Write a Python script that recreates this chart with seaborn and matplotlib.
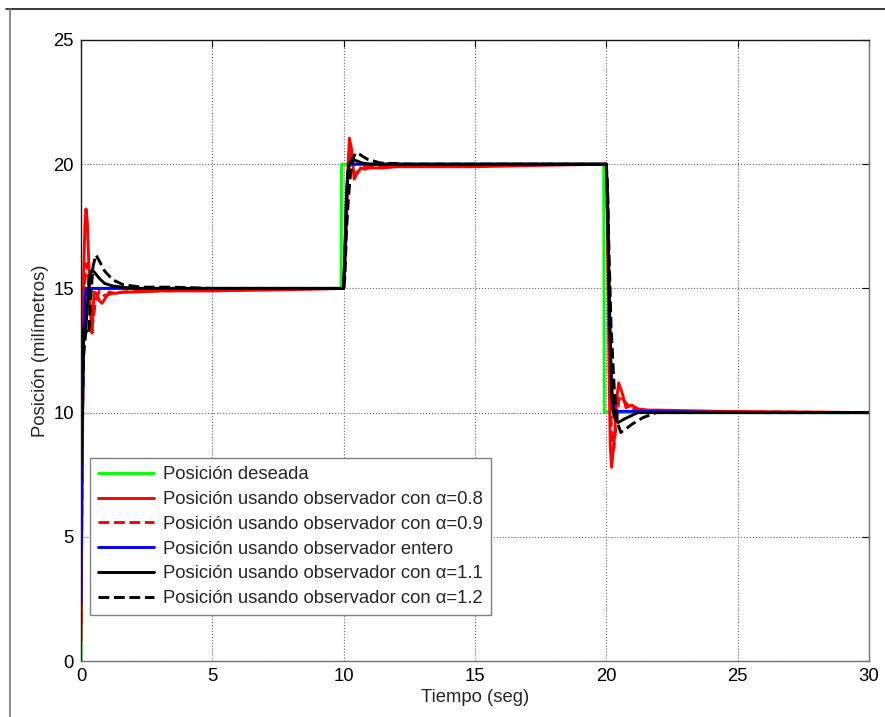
import matplotlib
matplotlib.use("Agg")
import matplotlib.pyplot as plt
from matplotlib.lines import Line2D
import pandas as pd
import seaborn as sns

sns.set_theme(style="white")
plt.rcParams["font.family"] = ["Liberation Sans", "DejaVu Sans"]

# Desired position (reference step sequence)
t_ref = [0.0, 0.02, 9.9, 9.92, 19.9, 19.92, 30.0]
y_ref = [0.0, 15.0, 15.0, 20.0, 20.0, 10.0, 10.0]

# Observer with alpha = 0.8
t_a08 = [0.0, 0.05, 0.1, 0.15, 0.19, 0.24, 0.3, 0.36, 0.42, 0.5, 0.6, 0.7, 0.8, 0.95, 1.07,
         1.3, 1.6, 2.0, 3.0, 5.0, 8.0, 10.0, 10.08, 10.15, 10.22, 10.3, 10.4, 10.5, 10.65,
         10.8, 11.0, 11.5, 12.0, 15.0, 17.3, 20.0, 20.05, 20.1, 20.15, 20.2, 20.3, 20.4,
         20.47, 20.6, 20.75, 20.97, 21.2, 21.6, 22.0, 24.4, 30.0]
y_a08 = [0.8, 9.0, 15.5, 17.6, 18.2, 17.7, 15.9, 14.0, 13.2, 14.85, 14.8, 14.5, 14.4, 14.65, 14.85,
         14.8, 14.85, 14.85, 14.9, 14.9, 14.95, 15.0, 17.0, 19.6, 21.05, 20.6, 19.4, 19.6, 19.85,
         19.8, 19.85, 19.85, 19.9, 19.9, 19.95, 20.0, 17.5, 12.0, 8.6, 7.8, 8.9, 10.6,
         11.2, 10.8, 10.2, 10.3, 10.15, 10.1, 10.1, 10.05, 10.0]

# Observer with alpha = 0.9
t_a09 = [0.0, 0.05, 0.1, 0.15, 0.21, 0.27, 0.33, 0.4, 0.46, 0.55, 0.7, 0.9, 1.2, 1.6, 2.2,
         3.0, 6.0, 10.0, 10.08, 10.15, 10.24, 10.32, 10.42, 10.55, 10.75, 11.0, 12.0, 16.0,
         20.0, 20.05, 20.12, 20.2, 20.28, 20.38, 20.5, 20.65, 20.9, 21.3, 22.0, 30.0]
y_a09 = [1.5, 8.5, 14.0, 15.6, 16.0, 15.4, 14.2, 13.5, 13.7, 14.5, 14.9, 14.7, 14.8, 14.85, 14.9,
         14.9, 14.95, 15.0, 16.8, 19.3, 20.6, 20.2, 19.6, 19.7, 19.9, 19.9, 19.95, 20.0,
         20.0, 17.0, 12.5, 9.0, 8.5, 9.6, 10.7, 10.5, 10.2, 10.1, 10.05, 10.0]

# Integer-order observer
t_int = [0.0, 0.05, 0.1, 0.15, 0.2, 1.0, 10.0, 10.05, 10.1, 10.15, 10.2, 20.0, 20.05, 20.1,
         20.2, 20.3, 21.0, 25.8, 30.0]
y_int = [2.3, 9.0, 13.0, 14.6, 15.0, 15.0, 15.0, 16.5, 18.3, 19.5, 20.0, 20.0, 18.0, 15.0,
         11.0, 10.05, 10.05, 10.0, 10.0]

# Observer with alpha = 1.1
t_a11 = [0.0, 0.05, 0.1, 0.18, 0.26, 0.33, 0.42, 0.55, 0.7, 0.9, 1.2, 1.56, 2.0, 10.0,
         10.05, 10.1, 10.15, 10.22, 10.3, 10.45, 10.7, 11.0, 12.0, 20.0, 20.05, 20.1, 20.15,
         20.22, 20.3, 20.45, 20.7, 21.2, 30.0]
y_a11 = [8.0, 11.5, 13.4, 13.3, 14.6, 15.5, 15.75, 15.6, 15.4, 15.2, 15.1, 15.05, 15.0, 15.0,
         16.8, 18.6, 19.6, 20.0, 20.2, 20.15, 20.05, 20.0, 20.0, 20.0, 18.5, 15.5, 12.5,
         10.5, 9.8, 9.6, 9.75, 10.0, 10.0]

# Observer with alpha = 1.2
t_a12 = [0.0, 0.05, 0.1, 0.18, 0.25, 0.3, 0.38, 0.46, 0.57, 0.7, 0.9, 1.2, 1.6, 2.3, 3.5, 5.0,
         10.0, 10.05, 10.1, 10.18, 10.26, 10.35, 10.45, 10.6, 10.9, 11.4, 12.5, 20.0, 20.05,
         20.1, 20.18, 20.3, 20.42, 20.55, 20.75, 21.0, 21.4, 21.9, 30.0]
y_a12 = [7.3, 10.0, 12.3, 13.2, 13.4, 13.3, 14.8, 15.9, 16.35, 16.1, 15.7, 15.35, 15.15, 15.05,
         15.05, 15.0, 15.0, 15.5, 17.2, 18.6, 19.6, 20.2, 20.45, 20.4, 20.2, 20.05, 20.0, 20.0,
         19.0, 16.5, 13.5, 11.0, 9.6, 9.2, 9.35, 9.55, 9.8, 10.0, 10.0]

series = [
    ("Posición deseada", t_ref, y_ref, "#00ff00", "-"),
    ("Posición usando observador con α=0.8", t_a08, y_a08, "#ff0000", "-"),
    ("Posición usando observador con α=0.9", t_a09, y_a09, "#ff0000", "--"),
    ("Posición usando observador entero", t_int, y_int, "#0000ff", "-"),
    ("Posición usando observador con α=1.1", t_a11, y_a11, "#000000", "-"),
    ("Posición usando observador con α=1.2", t_a12, y_a12, "#000000", "--"),
]

FS = 13.3

fig = plt.figure(figsize=(8.85, 7.17), dpi=100)
ax = fig.add_axes([81 / 885, 56 / 717, 788 / 885, 621 / 717])

for label, t, y, color, ls in series:
    df = pd.DataFrame({"t": t, "y": y})
    sns.lineplot(data=df, x="t", y="y", ax=ax, color=color, linestyle=ls,
                 linewidth=2.1, label=label, estimator=None, sort=False)

ax.set_xlim(0, 30)
ax.set_ylim(0, 25)
ax.set_xticks([0, 5, 10, 15, 20, 25, 30])
ax.set_yticks([0, 5, 10, 15, 20, 25])
ax.grid(True, linestyle=":", color="0.4", linewidth=0.8)
ax.tick_params(direction="in", length=5, width=0.8, colors="black",
               labelsize=FS, top=True, right=True, pad=5)
for side in ["left", "top"]:
    ax.spines[side].set_color("0.1")
for side in ["right", "bottom"]:
    ax.spines[side].set_color("0.45")
for sp in ax.spines.values():
    sp.set_linewidth(1.0)

ax.set_xlabel("Tiempo (seg)", fontsize=FS, labelpad=3)
ax.set_ylabel("Posición (milímetros)", fontsize=FS, labelpad=3)

leg = ax.legend(loc="upper left", bbox_to_anchor=(9 / 788, 203 / 621), borderaxespad=0,
                fontsize=FS, frameon=True, fancybox=False, edgecolor="0.5",
                framealpha=1, handlelength=3.0, handletextpad=0.5,
                labelspacing=0.42, borderpad=0.45)
leg.get_frame().set_linewidth(1.0)

# Outer window frame
fig.add_artist(Line2D([6 / 885, 1.0], [1 - 9 / 717, 1 - 9 / 717],
                      transform=fig.transFigure, color="0.1", linewidth=1.2))
fig.add_artist(Line2D([10 / 885, 10 / 885], [0.0, 1 - 9 / 717],
                      transform=fig.transFigure, color="0.45", linewidth=1.2))

fig.savefig("out.png", dpi=100)
